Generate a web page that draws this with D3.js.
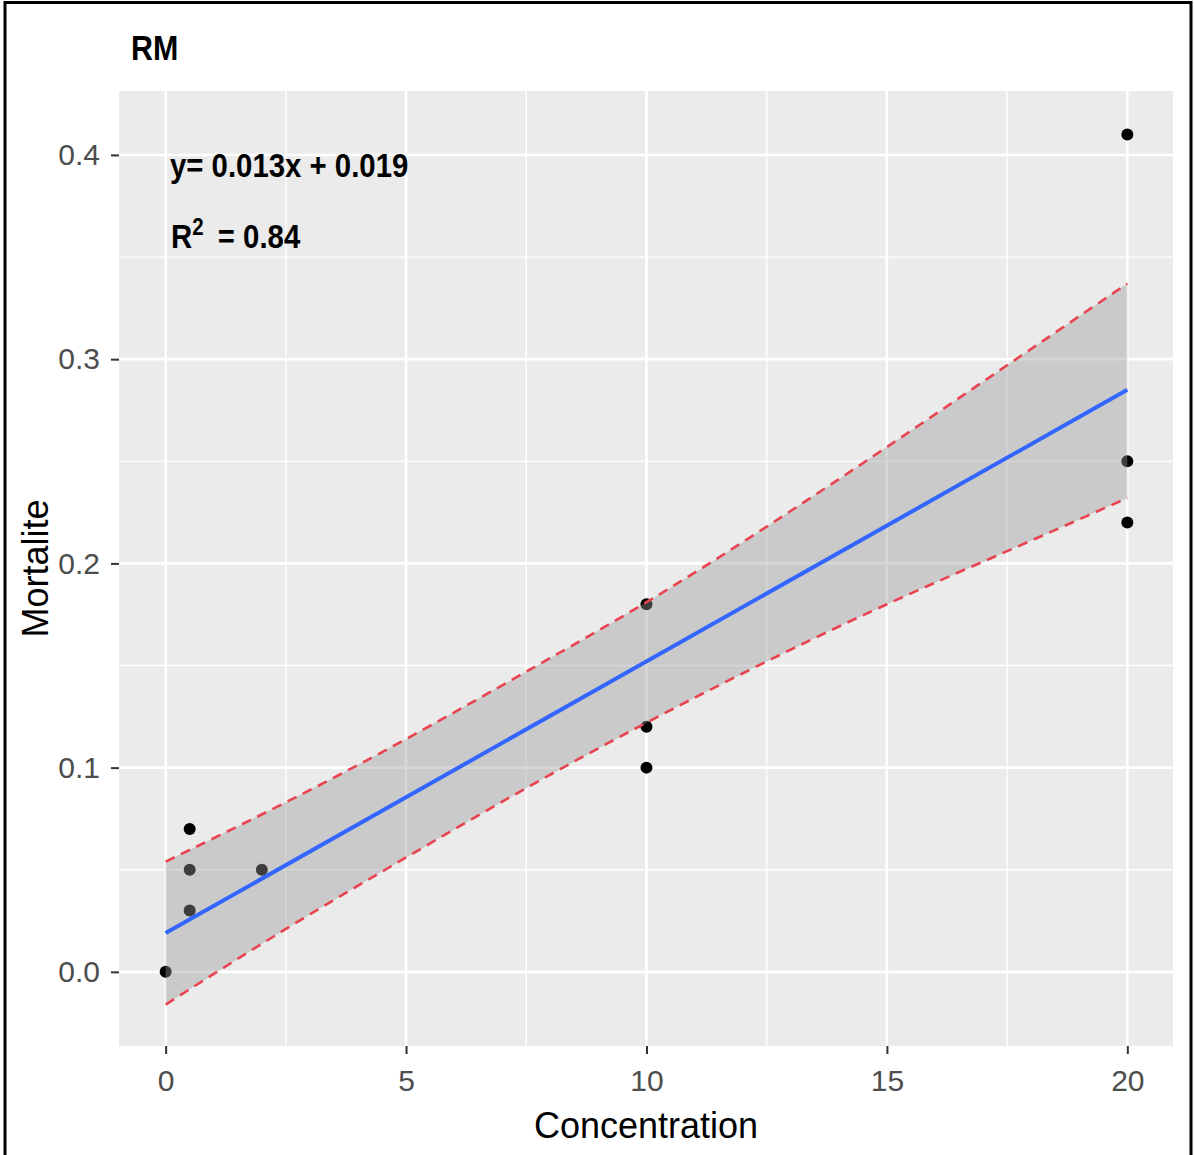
<!DOCTYPE html>
<html>
<head>
<meta charset="utf-8">
<script src="https://cdn.jsdelivr.net/npm/d3@7"></script>
<style>
  body { margin: 0; background: #fff; }
  svg { display: block; font-family: "Liberation Sans", Arial, sans-serif; }
</style>
</head>
<body>
<div id="chart"></div>
<script>
// observed points
const concentration = [0, 0.5, 0.5, 0.5, 2, 10, 10, 10, 20, 20, 20];
const mortalite = [0, 0.07, 0.05, 0.03, 0.05, 0.18, 0.12, 0.10, 0.41, 0.25, 0.22];

// fitted line (ends) and confidence band
const fitX = [0, 20];
const fitY = [0.019, 0.285];
const bandX = [0, 2.5, 5, 7.5, 10, 12.5, 15, 17.5, 20];
const bandUpper = [0.054, 0.083, 0.114, 0.147, 0.181, 0.218, 0.257, 0.297, 0.337];
const bandLower = [-0.016, 0.021, 0.056, 0.090, 0.122, 0.152, 0.180, 0.206, 0.232];

const xTicks = [0, 5, 10, 15, 20];
const xMinor = [2.5, 7.5, 12.5, 17.5];
const yTicks = [0, 0.1, 0.2, 0.3, 0.4];
const yMinor = [0.05, 0.15, 0.25, 0.35];

const width = 1194, height = 1155;
const panel = { left: 119, right: 1173, top: 91, bottom: 1046 };

const svg = d3.select("#chart").append("svg")
    .attr("width", width)
    .attr("height", height);

const x = d3.scaleLinear().domain([-0.97, 20.95]).range([panel.left, panel.right]);
const y = d3.scaleLinear().domain([-0.0363, 0.4313]).range([panel.bottom, panel.top]);

// outer frame
svg.append("rect")
    .attr("x", 5).attr("y", 2.5)
    .attr("width", 1186).attr("height", 1170)
    .attr("fill", "none")
    .attr("stroke", "#000")
    .attr("stroke-width", 3);

// panel background
svg.append("rect")
    .attr("x", panel.left).attr("y", panel.top)
    .attr("width", panel.right - panel.left)
    .attr("height", panel.bottom - panel.top)
    .attr("fill", "#EBEBEB");

const grid = svg.append("g").attr("stroke", "#fff");
grid.selectAll(".xminor").data(xMinor).enter().append("line")
    .attr("x1", d => x(d)).attr("x2", d => x(d))
    .attr("y1", panel.top).attr("y2", panel.bottom)
    .attr("stroke-width", 1.3);
grid.selectAll(".yminor").data(yMinor).enter().append("line")
    .attr("y1", d => y(d)).attr("y2", d => y(d))
    .attr("x1", panel.left).attr("x2", panel.right)
    .attr("stroke-width", 1.3);
grid.selectAll(".xmajor").data(xTicks).enter().append("line")
    .attr("x1", d => x(d)).attr("x2", d => x(d))
    .attr("y1", panel.top).attr("y2", panel.bottom)
    .attr("stroke-width", 2.6);
grid.selectAll(".ymajor").data(yTicks).enter().append("line")
    .attr("y1", d => y(d)).attr("y2", d => y(d))
    .attr("x1", panel.left).attr("x2", panel.right)
    .attr("stroke-width", 2.6);

// points
svg.append("g")
    .selectAll("circle")
    .data(concentration.map((c, i) => ({ c: c, m: mortalite[i] })))
    .enter()
    .append("circle")
    .attr("cx", d => x(d.c))
    .attr("cy", d => y(d.m))
    .attr("r", 6)
    .attr("fill", "#000");

// confidence ribbon drawn over the points (ggplot order)
const band = bandX.map((v, i) => ({ x: v, lo: bandLower[i], hi: bandUpper[i] }));
svg.append("path")
    .datum(band)
    .attr("d", d3.area().curve(d3.curveNatural).x(d => x(d.x)).y0(d => y(d.lo)).y1(d => y(d.hi)))
    .attr("fill", "#999999")
    .attr("fill-opacity", 0.4);

svg.append("path")
    .datum(fitX.map((v, i) => [v, fitY[i]]))
    .attr("d", d3.line().x(d => x(d[0])).y(d => y(d[1])))
    .attr("fill", "none")
    .attr("stroke", "#3366FF")
    .attr("stroke-width", 4);

[bandUpper, bandLower].forEach(edge => {
    svg.append("path")
        .datum(bandX.map((v, i) => [v, edge[i]]))
        .attr("d", d3.line().curve(d3.curveNatural).x(d => x(d[0])).y(d => y(d[1])))
        .attr("fill", "none")
        .attr("stroke", "#E8434F")
        .attr("stroke-width", 2.6)
        .attr("stroke-dasharray", "10,7");
});

// axes
const xAxis = svg.append("g")
    .attr("transform", `translate(0,${panel.bottom})`)
    .call(d3.axisBottom(x).tickValues(xTicks).tickFormat(d3.format("d")).tickSize(8).tickPadding(16));
const yAxis = svg.append("g")
    .attr("transform", `translate(${panel.left},0)`)
    .call(d3.axisLeft(y).tickValues(yTicks).tickFormat(d3.format(".1f")).tickSize(8).tickPadding(11));

[xAxis, yAxis].forEach(a => {
    a.select(".domain").remove();
    a.selectAll(".tick line").attr("stroke", "#333").attr("stroke-width", 2);
    a.selectAll(".tick text")
        .attr("fill", "#4D4D4D")
        .style("font-size", "30px")
        .style("font-family", "'Liberation Sans', Arial, sans-serif");
});

// titles
svg.append("text")
    .attr("x", (panel.left + panel.right) / 2)
    .attr("y", 1138)
    .attr("text-anchor", "middle")
    .style("font-size", "36px")
    .attr("fill", "#000")
    .text("Concentration");

svg.append("text")
    .attr("transform", `translate(48,${(panel.top + panel.bottom) / 2}) rotate(-90)`)
    .attr("text-anchor", "middle")
    .style("font-size", "36px")
    .attr("fill", "#000")
    .text("Mortalite");

svg.append("text")
    .attr("transform", "translate(131,60) scale(0.95,1.1)")
    .style("font-size", "32px")
    .style("font-weight", "bold")
    .attr("fill", "#000")
    .text("RM");

// annotation
svg.append("text")
    .attr("transform", "translate(170,177) scale(0.89,1)")
    .style("font-size", "33px")
    .style("font-weight", "bold")
    .attr("fill", "#000")
    .text("y= 0.013x + 0.019");

const r2 = svg.append("text")
    .attr("transform", "translate(171,248) scale(0.89,1)")
    .style("font-size", "33px")
    .style("font-weight", "bold")
    .attr("fill", "#000");
r2.append("tspan").text("R");
r2.append("tspan").attr("dy", -13).style("font-size", "23px").text("2");
r2.append("tspan").attr("dy", 13).attr("dx", 16).text("= 0.84");
</script>
</body>
</html>
